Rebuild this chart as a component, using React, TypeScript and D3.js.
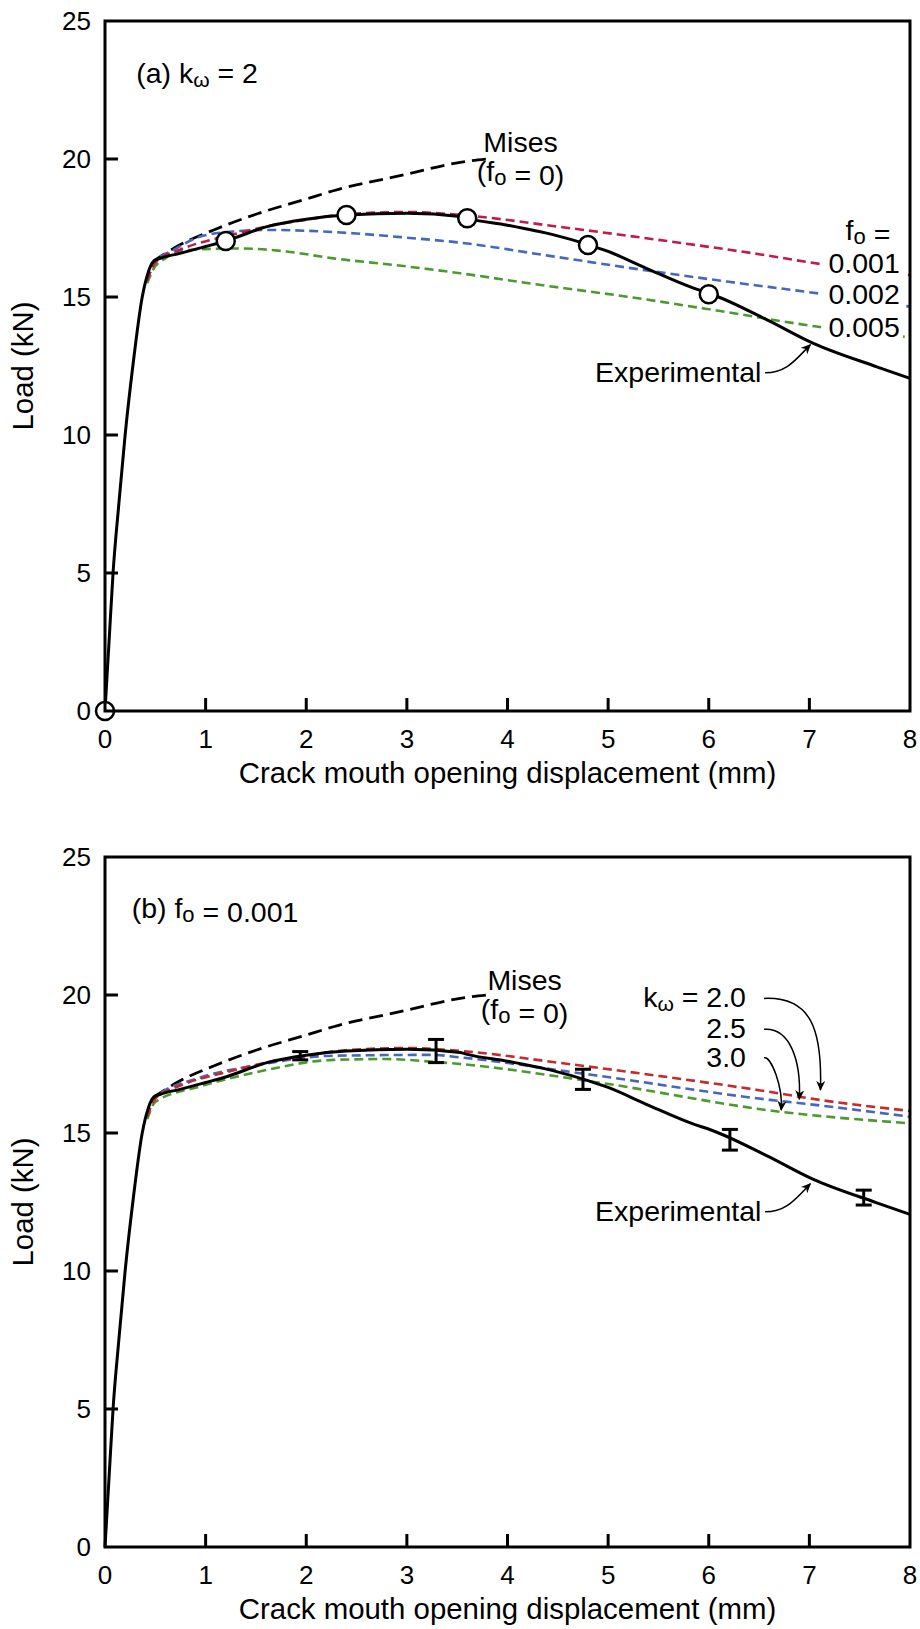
import * as d3 from "d3"

const xTicks = [0, 1, 2, 3, 4, 5, 6, 7, 8]
const yTicks = [0, 5, 10, 15, 20, 25]

// experimental load - CMOD curve (same test shown in both panels)
const expX = [0, 0.04, 0.08, 0.14, 0.2, 0.28, 0.37, 0.43, 0.48, 0.55, 0.745, 1.0, 1.2, 1.61, 2.0, 2.4, 3.0, 3.53, 3.6, 4.0, 4.46, 4.8, 5.0, 5.38, 5.85, 6.03, 6.58, 7.04, 7.67, 8.0]
const expY = [0, 2.5, 5, 7.6, 10, 12.6, 15.0, 15.9, 16.28, 16.4, 16.58, 16.83, 17.03, 17.55, 17.82, 17.97, 18.03, 17.92, 17.85, 17.6, 17.25, 16.9, 16.65, 16.04, 15.32, 15.1, 14.17, 13.32, 12.47, 12.05]

// Mises (fo = 0)
const misesX = [0.48, 0.75, 1.08, 1.5, 2.0, 2.27, 3.0, 3.53, 3.8]
const misesY = [16.3, 16.9, 17.43, 18.0, 18.55, 18.85, 19.45, 19.88, 20.0]

// fo = 0.001, kω = 2 (appears in both panels)
const fo001X = [0.42, 0.5, 0.75, 1.2, 1.6, 2.0, 2.4, 3.0, 3.6, 4.5, 5.5, 6.5, 7.1, 8.0]
const fo001Y = [15.6, 16.25, 16.72, 17.2, 17.55, 17.8, 18.0, 18.08, 17.95, 17.55, 17.07, 16.55, 16.2, 15.8]

// (a) kω = 2
const fo002X = [0.42, 0.5, 0.68, 0.94, 1.3, 1.61, 2.0, 2.5, 3.0, 3.53, 4.4, 5.35, 6.2, 7.09, 8.0]
const fo002Y = [15.6, 16.3, 16.7, 17.18, 17.38, 17.43, 17.4, 17.3, 17.15, 16.97, 16.5, 15.98, 15.55, 15.13, 14.65]
const fo005X = [0.42, 0.48, 0.6, 0.81, 1.34, 1.8, 2.27, 2.9, 3.53, 4.3, 5.19, 6.1, 7.09, 8.0]
const fo005Y = [15.5, 16.0, 16.4, 16.7, 16.76, 16.65, 16.4, 16.15, 15.86, 15.45, 15.01, 14.5, 13.92, 13.54]

// (b) fo = 0.001
const kw25X = [0.42, 0.5, 0.94, 1.5, 2.27, 3.26, 3.53, 4.85, 6.61, 6.91, 8.0]
const kw25Y = [15.6, 16.3, 17.0, 17.45, 17.8, 17.83, 17.74, 17.1, 16.2, 16.08, 15.59]
const kw30X = [0.42, 0.5, 0.94, 1.5, 2.27, 2.8, 3.26, 3.53, 4.85, 6.71, 8.0]
const kw30Y = [15.5, 16.13, 16.68, 17.2, 17.65, 17.68, 17.58, 17.5, 16.86, 15.77, 15.35]

// markers
const circleX = [0, 1.2, 2.4, 3.6, 4.8, 6.0]
const circleY = [0, 17.03, 17.97, 17.85, 16.88, 15.1]
const errX = [1.94, 3.29, 4.75, 6.21, 7.54]
const errLo = [17.65, 17.55, 16.58, 14.38, 12.39]
const errHi = [17.95, 18.39, 17.31, 15.13, 12.93]

const foLabels = ["0.001", "0.002", "0.005"]
const kwLabels = ["2.0", "2.5", "3.0"]

const FONT = "'Liberation Sans', Arial, Helvetica, sans-serif"
const FS = 28.5
const FT = 29.4
const RED_A = "#c21a4a"
const RED_B = "#c42c2c"
const BLUE = "#4468bb"
const GREEN = "#4b9a2c"

const x = d3.scaleLinear().domain([0, 8]).range([105, 910])
const yA = d3.scaleLinear().domain([0, 25]).range([711, 21])
const yB = d3.scaleLinear().domain([0, 25]).range([1547, 857])

const pathOf = (xs: number[], ys: number[], y: d3.ScaleLinear<number, number>) =>
  d3.line<number>()
    .x(i => x(xs[i]))
    .y(i => y(ys[i]))
    .curve(d3.curveMonotoneX)(xs.map((_, i) => i)) || ""

const Frame = ({ y }: { y: d3.ScaleLinear<number, number> }) => {
  const [x0, x1] = x.range()
  const [b, t] = y.range()
  return (
    <g>
      <rect x={x0} y={t} width={x1 - x0} height={b - t} fill="none" stroke="#000" strokeWidth={3} />
      {xTicks.slice(1, -1).map(v => (
        <line key={"xt" + v} x1={x(v)} x2={x(v)} y1={b} y2={b - 13} stroke="#000" strokeWidth={3} />
      ))}
      {yTicks.slice(1, -1).map(v => (
        <line key={"yt" + v} x1={x0} x2={x0 + 13} y1={y(v)} y2={y(v)} stroke="#000" strokeWidth={3} />
      ))}
      {xTicks.map(v => (
        <text key={"xl" + v} x={x(v)} y={b + 37} textAnchor="middle" fontSize={26}>{v}</text>
      ))}
      {yTicks.map(v => (
        <text key={"yl" + v} x={91} y={y(v) + 9.3} textAnchor="end" fontSize={26}>{v}</text>
      ))}
      <text x={(x0 + x1) / 2} y={b + 72} textAnchor="middle" fontSize={FT}>Crack mouth opening displacement (mm)</text>
      <text transform={`translate(33,${(b + t) / 2}) rotate(-90)`} textAnchor="middle" fontSize={FT}>Load (kN)</text>
    </g>
  )
}

const Sub = ({ s }: { s: string }) => (
  <>
    <tspan fontSize={22} dy={4}>{s}</tspan>
    <tspan dy={-4}></tspan>
  </>
)

const MisesLabel = ({ y, cx, top }: { y: d3.ScaleLinear<number, number>, cx: number, top: number }) => (
  <g>
    <text x={x(cx)} y={y(top)} textAnchor="middle" fontSize={FS}>Mises</text>
    <text x={x(cx)} y={y(top) + 29} textAnchor="middle" fontSize={FS}>
      (f<Sub s="o" /> = 0)
    </text>
  </g>
)

const ExpLabel = ({ y, base }: { y: d3.ScaleLinear<number, number>, base: number }) => {
  const sx = x(6.54) + 2, sy = y(base) - 9
  const ex = x(7.01), ey = y(base) - 37
  return (
    <g>
      <text x={x(4.87)} y={y(base)} fontSize={FS}>Experimental</text>
      <path d={`M${sx},${sy} C${sx + 22},${sy} ${ex - 14},${ey + 14} ${ex},${ey}`} fill="none" stroke="#000" strokeWidth={1.5} markerEnd="url(#ah)" />
    </g>
  )
}

export default function App() {
  const modelsA = [
    { xs: fo005X, ys: fo005Y, c: GREEN },
    { xs: fo002X, ys: fo002Y, c: BLUE },
    { xs: fo001X, ys: fo001Y, c: RED_A },
  ]
  const modelsB = [
    { xs: kw30X, ys: kw30Y, c: GREEN },
    { xs: kw25X, ys: kw25Y, c: BLUE },
    { xs: fo001X, ys: fo001Y, c: RED_B },
  ]
  const foBase = [15.86, 14.75, 13.54]
  const kwBase = [19.55, 18.43, 17.4]
  const kwTip = [[7.11, 16.56], [6.9, 16.22], [6.72, 15.83]]

  return (
    <svg width={920} height={1629} style={{ position: "absolute", left: 0, top: 0, background: "#fff" }} fontFamily={FONT} fill="#000">
      <defs>
        <marker id="ah" viewBox="0 0 10 10" refX={9} refY={5} markerWidth={10} markerHeight={10} markerUnits="userSpaceOnUse" orient="auto">
          <path d="M0,0.5 L10,5 L0,9.5 L3,5 z" fill="#000" />
        </marker>
      </defs>

      {/* ---------- (a) ---------- */}
      <path d={pathOf(misesX, misesY, yA)} fill="none" stroke="#000" strokeWidth={2.8} strokeDasharray="14 7" />
      {modelsA.map((m, i) => (
        <path key={"ma" + i} d={pathOf(m.xs, m.ys, yA)} fill="none" stroke={m.c} strokeWidth={2.6} strokeDasharray="9 5" />
      ))}
      <path d={pathOf(expX, expY, yA)} fill="none" stroke="#000" strokeWidth={3} />
      {circleX.map((v, i) => (
        <circle key={"c" + i} cx={x(v)} cy={yA(circleY[i])} r={9} fill="#fff" stroke="#000" strokeWidth={2.5} />
      ))}
      <Frame y={yA} />
      <text x={x(0.31)} y={yA(22.75)} fontSize={FS}>(a) k<tspan fontSize={21} dy={4}>ω</tspan><tspan dy={-4}> = 2</tspan></text>
      <MisesLabel y={yA} cx={4.13} top={20.26} />
      <text x={x(7.36)} y={yA(17.07)} fontSize={FS}>f<Sub s="o" /> =</text>
      {foLabels.map((s, i) => (
        <g key={"fl" + i}>
          <rect x={x(7.12)} y={yA(foBase[i]) - 23} width={x(7.93) - x(7.12)} height={28} fill="#fff" />
          <text x={x(7.19)} y={yA(foBase[i])} fontSize={FS}>{s}</text>
        </g>
      ))}
      <ExpLabel y={yA} base={11.93} />

      {/* ---------- (b) ---------- */}
      <path d={pathOf(misesX, misesY, yB)} fill="none" stroke="#000" strokeWidth={2.8} strokeDasharray="14 7" />
      {modelsB.map((m, i) => (
        <path key={"mb" + i} d={pathOf(m.xs, m.ys, yB)} fill="none" stroke={m.c} strokeWidth={2.6} strokeDasharray="9 5" />
      ))}
      <path d={pathOf(expX, expY, yB)} fill="none" stroke="#000" strokeWidth={3} />
      {errX.map((v, i) => (
        <g key={"e" + i} stroke="#000" strokeWidth={3}>
          <line x1={x(v)} x2={x(v)} y1={yB(errLo[i])} y2={yB(errHi[i])} />
          <line x1={x(v) - 8} x2={x(v) + 8} y1={yB(errLo[i])} y2={yB(errLo[i])} />
          <line x1={x(v) - 8} x2={x(v) + 8} y1={yB(errHi[i])} y2={yB(errHi[i])} />
        </g>
      ))}
      <Frame y={yB} />
      <text x={x(0.265)} y={yB(22.78)} fontSize={FS}>(b) f<Sub s="o" /> = 0.001</text>
      <MisesLabel y={yB} cx={4.17} top={20.18} />
      {kwLabels.map((s, i) => {
        const sx = x(6.49) + 6, sy = yB(kwBase[i]) - 9
        const ex = x(kwTip[i][0]), ey = yB(kwTip[i][1])
        return (
          <g key={"kl" + i}>
            {i === 0 ? (
              <text x={x(6.37)} y={yB(kwBase[i])} textAnchor="end" fontSize={FS}>k<tspan fontSize={21} dy={4}>ω</tspan><tspan dy={-4}> = {s}</tspan></text>
            ) : (
              <text x={x(6.37)} y={yB(kwBase[i])} textAnchor="end" fontSize={FS}>{s}</text>
            )}
            <path d={`M${sx},${sy} C${ex - 10},${sy - 2} ${ex + 2},${sy + 30} ${ex},${ey}`} fill="none" stroke="#000" strokeWidth={1.5} markerEnd="url(#ah)" />
          </g>
        )
      })}
      <ExpLabel y={yB} base={11.82} />
    </svg>
  )
}
